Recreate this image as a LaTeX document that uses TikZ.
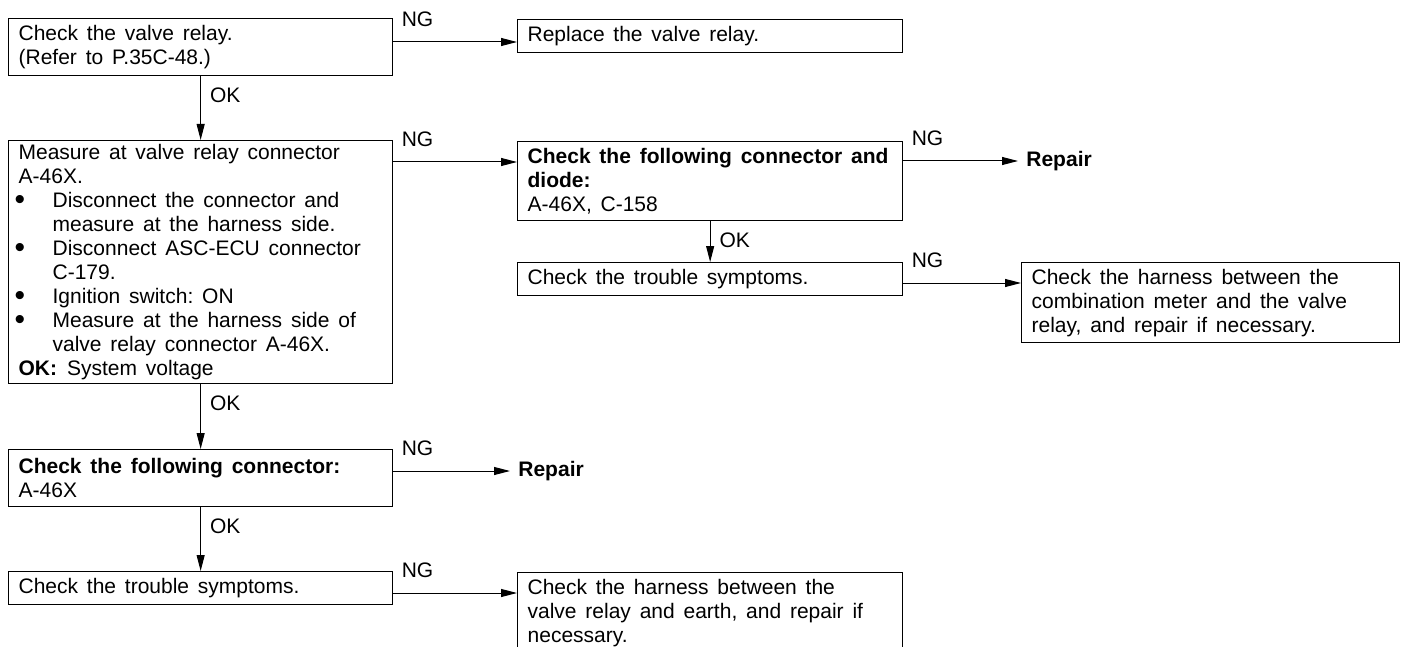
\documentclass[tikz,border=0pt]{standalone}
\usepackage{fontspec}
\setmainfont{Liberation Sans}
\usetikzlibrary{arrows.meta,calc}

% text in the boxes: wide word spaces, tight lines
\newcommand{\boxfont}{\fontsize{10.5}{12}\selectfont}
\newcommand{\widespace}{\frenchspacing\spaceskip=0.42em plus 0.1em\relax}
\newcommand{\itm}{\makebox[17pt][l]{\hspace{-2pt}\smash{\raisebox{-1.2pt}{\fontsize{15}{12}\selectfont\textbullet}}}}
\newcommand{\itmcont}{\hspace*{17pt}}

\begin{document}
\begin{tikzpicture}[x=0.5pt,y=0.5pt,yscale=-1,
	box/.style={draw, line width=0.65pt, anchor=north west, align=left, inner xsep=5pt, inner ysep=0pt, font=\boxfont, execute at begin node=\widespace},
	colA/.style={minimum width=192pt, text width=182pt},
	colB/.style={minimum width=192.5pt, text width=182.5pt},
	colC/.style={minimum width=189pt, text width=179pt},
	arr/.style={line width=0.5pt, -{Triangle[length=8pt,width=4pt]}},
	ng/.style={anchor=south west, inner xsep=4pt, inner ysep=7.5pt, font=\boxfont},
	ok/.style={anchor=north west, inner xsep=4.5pt, inner ysep=5.75pt, font=\boxfont},
	repair/.style={anchor=west, inner sep=4pt, font=\boxfont\bfseries}]
	\useasboundingbox (0,0) rectangle (1403,647);
	\clip (0,0) rectangle (1403,647);

	% left column
	\node[box, colA, minimum height=28.5pt] (b1) at (8,18) {Check the valve relay.\\(Refer to P.35C-48.)};
	\node[box, colA, minimum height=121.5pt] (b3) at (8,140) {%
		Measure at valve relay connector\\
		A-46X.\\
		\itm Disconnect the connector and\\
		\itmcont measure at the harness side.\\
		\itm Disconnect ASC-ECU connector\\
		\itmcont C-179.\\
		\itm Ignition switch: ON\\
		\itm Measure at the harness side of\\
		\itmcont valve relay connector A-46X.\\
		\textbf{OK:}\hspace{5pt}System voltage};
	\node[box, colA, minimum height=28.5pt] (b7) at (8,449) {\textbf{Check the following connector:}\\A-46X};
	\node[box, colA, minimum height=16.5pt] (b8) at (8,571) {Check the trouble symptoms.};

	% middle column
	\node[box, colB, minimum height=16.5pt] (b2) at (517,19) {Replace the valve relay.};
	\node[box, colB, minimum height=39.5pt] (b4) at (517,141) {\mbox{\textbf{Check the following connector and}}\\\textbf{diode:}\\A-46X, C-158};
	\node[box, colB, minimum height=16.5pt] (b5) at (517,262) {Check the trouble symptoms.};
	\node[box, colB, minimum height=40pt] (b9) at (517,572) {Check the harness between the\\valve relay and earth, and repair if\\necessary.};
	\node[repair] (r2) at (510,471) {Repair};

	% right column
	\node[box, colC, minimum height=40pt] (b6) at (1021,262) {Check the harness between the\\combination meter and the valve\\relay, and repair if necessary.};
	\node[repair] (r1) at (1018,161) {Repair};

	% OK branches
	\draw[arr] (b1.south) -- node[ok, pos=0] {OK} (b3.north);
	\draw[arr] (b3.south) -- node[ok, pos=0] {OK} (b7.north);
	\draw[arr] (b7.south) -- node[ok, pos=0] {OK} (b8.north);
	\draw[arr] (b4.south) -- node[ok, pos=0] {OK} (b5.north);

	% NG branches
	\coordinate (n1) at ($(b1.north east)+(0,24)$);
	\coordinate (n3) at ($(b3.north east)+(0,22)$);
	\coordinate (n4) at ($(b4.north east)+(0,20)$);
	\coordinate (n5) at ($(b5.north east)+(0,21)$);
	\coordinate (n7) at ($(b7.north east)+(0,22)$);
	\coordinate (n8) at ($(b8.north east)+(0,22)$);
	\draw[arr] (n1) -- node[ng, pos=0] {NG} (n1 -| b2.west);
	\draw[arr] (n3) -- node[ng, pos=0] {NG} (n3 -| b4.west);
	\draw[arr] (n4) -- node[ng, pos=0] {NG} (n4 -| r1.west);
	\draw[arr] (n5) -- node[ng, pos=0] {NG} (n5 -| b6.west);
	\draw[arr] (n7) -- node[ng, pos=0] {NG} (n7 -| r2.west);
	\draw[arr] (n8) -- node[ng, pos=0] {NG} (n8 -| b9.west);
\end{tikzpicture}
\end{document}
